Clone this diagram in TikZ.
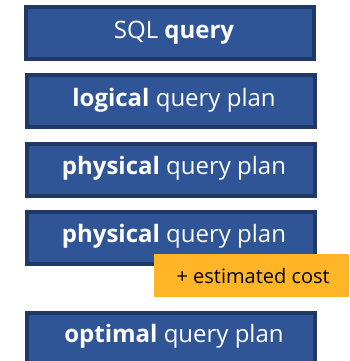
\documentclass[tikz,border=0pt]{standalone}
\usepackage{fontspec}
\setmainfont{Open Sans}
\definecolor{boxfill}{HTML}{2F5597}
\definecolor{boxline}{HTML}{203864}
\definecolor{gold}{HTML}{FFB526}
\begin{document}
\begin{tikzpicture}[x=1pt,y=-1pt,
  qbox/.style={draw=boxline,line width=4pt,fill=boxfill,minimum width=288pt,minimum height=52pt,inner sep=0pt,anchor=north west},
  qtext/.style={text=white,font=\fontsize{24}{28}\selectfont,anchor=base},
  costbox/.style={fill=gold,minimum width=195pt,minimum height=43pt,inner sep=0pt,anchor=north west,font=\fontsize{20}{24}\selectfont,text=black}]
\useasboundingbox (0,0) rectangle (349,361);
\node[qbox] (b1) at (24,5) {};
\node[qbox] (b2) at (25,73) {};
\node[qbox] (b3) at (25,142) {};
\node[qbox] (b4) at (25,210) {};
\node[qbox] (b5) at (25,311) {};
\node[qtext] (t1) at (174,38) {SQL \textbf{query}};
\node[qtext] (t2) at (174,106) {\textbf{logical} query plan};
\node[qtext] (t3) at (174,174) {\textbf{physical} query plan};
\node[qtext] (t4) at (174,242) {\textbf{physical} query plan};
\node[costbox] (c) at (154,254) {\hspace*{3pt}+ estimated cost};
\node[qtext] (t5) at (174,342) {\textbf{optimal} query plan};
\end{tikzpicture}
\end{document}
